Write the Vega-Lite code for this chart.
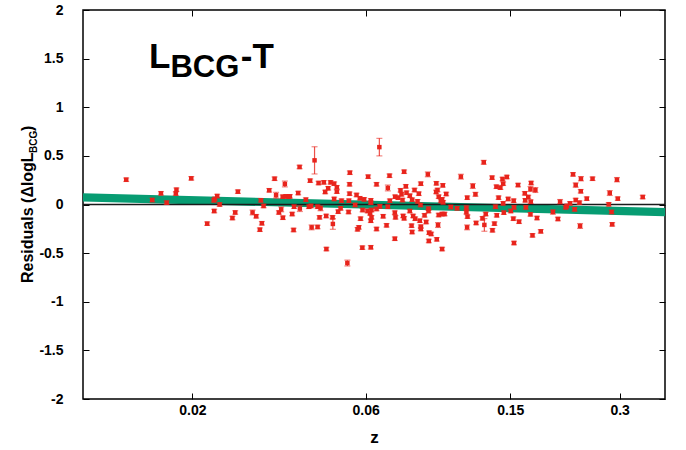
{
  "$schema": "https://vega.github.io/schema/vega-lite/v6.json",
  "width": 582,
  "height": 389,
  "autosize": {"type": "none"},
  "padding": {"left": 83, "top": 10, "right": 21, "bottom": 51},
  "background": "white",
  "config": {
    "font": "Liberation Sans",
    "view": {"stroke": "#000", "strokeWidth": 1.5}
  },
  "datasets": {
    "band": [
      {"z": 0.01, "hi": 0.115, "lo": 0.03},
      {"z": 0.4, "hi": -0.037, "lo": -0.12}
    ],
    "pts": [
      {"z":0.01315,"r":0.255,"e":0.018},{"z":0.01551,"r":0.046,"e":0.018},{"z":0.01639,"r":0.115,"e":0.018},{"z":0.01699,"r":0.019,"e":0.018},
      {"z":0.01808,"r":0.152,"e":0.018},{"z":0.01801,"r":0.112,"e":0.018},{"z":0.01986,"r":0.269,"e":0.018},{"z":0.02197,"r":-0.197,"e":0.018},
      {"z":0.02297,"r":-0.067,"e":0.018},{"z":0.02292,"r":0.043,"e":0.018},{"z":0.02306,"r":0.057,"e":0.018},{"z":0.02341,"r":0.087,"e":0.018},
      {"z":0.02377,"r":0.0,"e":0.018},{"z":0.02578,"r":-0.139,"e":0.018},{"z":0.02624,"r":-0.082,"e":0.018},{"z":0.02669,"r":0.132,"e":0.018},
      {"z":0.02929,"r":-0.082,"e":0.025},{"z":0.02997,"r":-0.121,"e":0.018},{"z":0.03068,"r":-0.259,"e":0.018},{"z":0.03087,"r":0.043,"e":0.018},
      {"z":0.03107,"r":-0.193,"e":0.018},{"z":0.03141,"r":-0.015,"e":0.018},{"z":0.03255,"r":0.146,"e":0.018},{"z":0.03368,"r":0.265,"e":0.018},
      {"z":0.034,"r":0.095,"e":0.03},{"z":0.03461,"r":-0.082,"e":0.018},{"z":0.03512,"r":-0.05,"e":0.025},{"z":0.0355,"r":-0.136,"e":0.018},
      {"z":0.03545,"r":0.08,"e":0.018},{"z":0.03595,"r":0.211,"e":0.03},{"z":0.03618,"r":0.084,"e":0.018},{"z":0.0368,"r":0.08,"e":0.018},
      {"z":0.03711,"r":0.084,"e":0.018},{"z":0.03765,"r":-0.098,"e":0.018},{"z":0.03799,"r":-0.262,"e":0.018},{"z":0.03812,"r":-0.023,"e":0.018},
      {"z":0.03911,"r":0.118,"e":0.018},{"z":0.03946,"r":0.386,"e":0.018},{"z":0.03953,"r":-0.042,"e":0.03},{"z":0.04106,"r":0.05,"e":0.018},
      {"z":0.04186,"r":-0.023,"e":0.018},{"z":0.04219,"r":0.245,"e":0.018},{"z":0.04242,"r":-0.015,"e":0.018},{"z":0.04259,"r":-0.235,"e":0.025},
      {"z":0.04339,"r":0.454,"e":0.14},{"z":0.04423,"r":-0.023,"e":0.018},{"z":0.04423,"r":-0.231,"e":0.018},{"z":0.04451,"r":0.221,"e":0.018},
      {"z":0.04478,"r":-0.132,"e":0.018},{"z":0.04507,"r":-0.039,"e":0.025},{"z":0.04602,"r":0.228,"e":0.018},{"z":0.04641,"r":0.129,"e":0.018},
      {"z":0.04671,"r":-0.118,"e":0.018},{"z":0.04677,"r":-0.458,"e":0.018},{"z":0.0473,"r":0.167,"e":0.018},{"z":0.04802,"r":0.228,"e":0.018},
      {"z":0.04864,"r":-0.132,"e":0.018},{"z":0.04873,"r":-0.2,"e":0.055},{"z":0.04913,"r":0.214,"e":0.018},{"z":0.04913,"r":0.057,"e":0.018},
      {"z":0.04998,"r":0.177,"e":0.018},{"z":0.04998,"r":0.132,"e":0.018},{"z":0.05039,"r":-0.074,"e":0.018},{"z":0.05118,"r":-0.039,"e":0.018},
      {"z":0.05148,"r":0.039,"e":0.018},{"z":0.05342,"r":-0.602,"e":0.03},{"z":0.05382,"r":-0.077,"e":0.018},{"z":0.05393,"r":0.039,"e":0.018},
      {"z":0.05417,"r":0.208,"e":0.018},{"z":0.05417,"r":0.111,"e":0.018},{"z":0.05427,"r":0.327,"e":0.018},{"z":0.05612,"r":-0.005,"e":0.018},
      {"z":0.05662,"r":0.098,"e":0.018},{"z":0.05698,"r":-0.255,"e":0.018},{"z":0.05745,"r":-0.235,"e":0.018},{"z":0.05782,"r":0.064,"e":0.018},
      {"z":0.05808,"r":-0.146,"e":0.018},{"z":0.05874,"r":-0.444,"e":0.018},{"z":0.05882,"r":-0.057,"e":0.018},{"z":0.05942,"r":0.053,"e":0.018},
      {"z":0.0607,"r":-0.067,"e":0.018},{"z":0.06093,"r":0.286,"e":0.018},{"z":0.06171,"r":-0.091,"e":0.018},{"z":0.06198,"r":0.043,"e":0.018},
      {"z":0.06225,"r":-0.132,"e":0.018},{"z":0.06198,"r":-0.167,"e":0.018},{"z":0.06225,"r":-0.057,"e":0.018},{"z":0.06198,"r":0.019,"e":0.018},
      {"z":0.06198,"r":-0.44,"e":0.018},{"z":0.06427,"r":0.208,"e":0.018},{"z":0.06427,"r":-0.046,"e":0.018},{"z":0.06427,"r":-0.252,"e":0.018},
      {"z":0.06543,"r":0.59,"e":0.09},{"z":0.06563,"r":-0.019,"e":0.018},{"z":0.06702,"r":-0.121,"e":0.018},{"z":0.06848,"r":-0.214,"e":0.018},
      {"z":0.06904,"r":0.17,"e":0.03},{"z":0.06904,"r":-0.023,"e":0.018},{"z":0.06978,"r":0.296,"e":0.018},{"z":0.06993,"r":0.039,"e":0.018},
      {"z":0.07217,"r":-0.352,"e":0.018},{"z":0.0723,"r":0.08,"e":0.018},{"z":0.07217,"r":-0.084,"e":0.018},{"z":0.07247,"r":-0.132,"e":0.018},
      {"z":0.0737,"r":0.07,"e":0.018},{"z":0.07482,"r":0.146,"e":0.018},{"z":0.07529,"r":0.105,"e":0.018},{"z":0.07576,"r":0.046,"e":0.018},
      {"z":0.07606,"r":-0.118,"e":0.018},{"z":0.07655,"r":0.337,"e":0.018},{"z":0.07655,"r":-0.142,"e":0.018},{"z":0.07738,"r":0.187,"e":0.018},
      {"z":0.07773,"r":0.121,"e":0.018},{"z":0.07937,"r":0.09,"e":0.018},{"z":0.07937,"r":-0.067,"e":0.018},{"z":0.08025,"r":-0.218,"e":0.018},
      {"z":0.08053,"r":0.049,"e":0.018},{"z":0.08053,"r":-0.283,"e":0.018},{"z":0.08104,"r":-0.118,"e":0.018},{"z":0.08177,"r":0.149,"e":0.018},
      {"z":0.08209,"r":-0.146,"e":0.018},{"z":0.08334,"r":0.033,"e":0.018},{"z":0.08403,"r":0.111,"e":0.018},{"z":0.08456,"r":-0.167,"e":0.018},
      {"z":0.08493,"r":-0.005,"e":0.018},{"z":0.08509,"r":0.214,"e":0.018},{"z":0.08509,"r":-0.228,"e":0.018},{"z":0.08509,"r":-0.252,"e":0.018},
      {"z":0.08713,"r":-0.111,"e":0.018},{"z":0.08803,"r":-0.18,"e":0.018},{"z":0.08896,"r":0.31,"e":0.025},{"z":0.08935,"r":-0.067,"e":0.018},
      {"z":0.08935,"r":-0.043,"e":0.018},{"z":0.08968,"r":-0.29,"e":0.018},{"z":0.08952,"r":-0.375,"e":0.018},{"z":0.09085,"r":-0.303,"e":0.018},
      {"z":0.09388,"r":0.218,"e":0.018},{"z":0.09458,"r":0.149,"e":0.018},{"z":0.09376,"r":0.129,"e":0.018},{"z":0.09416,"r":-0.358,"e":0.018},
      {"z":0.0949,"r":-0.211,"e":0.025},{"z":0.09532,"r":0.08,"e":0.018},{"z":0.09532,"r":-0.108,"e":0.018},{"z":0.09658,"r":0.036,"e":0.018},
      {"z":0.09739,"r":0.053,"e":0.018},{"z":0.09739,"r":-0.098,"e":0.018},{"z":0.09739,"r":-0.458,"e":0.018},{"z":0.09782,"r":0.197,"e":0.018},
      {"z":0.098,"r":0.023,"e":0.018},{"z":0.09892,"r":-0.098,"e":0.018},{"z":0.09994,"r":0.108,"e":0.018},{"z":0.1029,"r":-0.026,"e":0.018},
      {"z":0.1071,"r":-0.039,"e":0.018},{"z":0.1097,"r":0.286,"e":0.025},{"z":0.1136,"r":-0.033,"e":0.018},{"z":0.1136,"r":-0.08,"e":0.018},
      {"z":0.1142,"r":0.07,"e":0.018},{"z":0.1144,"r":-0.125,"e":0.018},{"z":0.1141,"r":-0.235,"e":0.025},{"z":0.1183,"r":0.19,"e":0.025},
      {"z":0.1203,"r":0.105,"e":0.02},{"z":0.1208,"r":-0.19,"e":0.018},{"z":0.1258,"r":-0.142,"e":0.018},{"z":0.1268,"r":0.434,"e":0.02},
      {"z":0.1273,"r":-0.21,"e":0.065},{"z":0.1284,"r":-0.098,"e":0.018},{"z":0.1337,"r":0.276,"e":0.018},{"z":0.134,"r":-0.265,"e":0.018},
      {"z":0.1357,"r":-0.197,"e":0.018},{"z":0.1366,"r":-0.023,"e":0.018},{"z":0.1374,"r":0.183,"e":0.018},{"z":0.1377,"r":-0.111,"e":0.018},
      {"z":0.1393,"r":0.07,"e":0.018},{"z":0.1409,"r":0.173,"e":0.018},{"z":0.1428,"r":0.262,"e":0.018},{"z":0.1434,"r":0.214,"e":0.018},
      {"z":0.1434,"r":0.012,"e":0.018},{"z":0.144,"r":-0.084,"e":0.018},{"z":0.1468,"r":0.283,"e":0.018},{"z":0.148,"r":0.057,"e":0.018},
      {"z":0.1505,"r":-0.067,"e":0.018},{"z":0.153,"r":-0.146,"e":0.018},{"z":0.1533,"r":0.039,"e":0.018},{"z":0.1536,"r":-0.029,"e":0.018},
      {"z":0.1536,"r":-0.396,"e":0.018},{"z":0.1576,"r":0.2,"e":0.018},{"z":0.1586,"r":-0.177,"e":0.018},{"z":0.1645,"r":0.115,"e":0.018},
      {"z":0.1649,"r":0.043,"e":0.018},{"z":0.1656,"r":-0.029,"e":0.018},{"z":0.1681,"r":0.077,"e":0.018},{"z":0.1705,"r":0.159,"e":0.025},
      {"z":0.1705,"r":-0.101,"e":0.018},{"z":0.1712,"r":0.221,"e":0.018},{"z":0.1708,"r":0.029,"e":0.018},{"z":0.1727,"r":-0.317,"e":0.018},
      {"z":0.1759,"r":0.149,"e":0.025},{"z":0.1777,"r":-0.139,"e":0.018},{"z":0.182,"r":-0.276,"e":0.018},{"z":0.1966,"r":-0.077,"e":0.022},
      {"z":0.2029,"r":-0.149,"e":0.018},{"z":0.2057,"r":0.029,"e":0.022},{"z":0.2132,"r":-0.029,"e":0.018},{"z":0.2146,"r":-0.015,"e":0.018},
      {"z":0.2191,"r":0.012,"e":0.018},{"z":0.2233,"r":0.31,"e":0.018},{"z":0.2256,"r":-0.05,"e":0.018},{"z":0.2271,"r":0.2,"e":0.022},
      {"z":0.2271,"r":0.046,"e":0.018},{"z":0.2326,"r":0.019,"e":0.018},{"z":0.2335,"r":-0.221,"e":0.025},{"z":0.2348,"r":0.265,"e":0.022},
      {"z":0.2345,"r":0.136,"e":0.018},{"z":0.2436,"r":0.06,"e":0.018},{"z":0.2527,"r":0.265,"e":0.018},{"z":0.28,"r":0.002,"e":0.018},
      {"z":0.2818,"r":0.118,"e":0.025},{"z":0.2851,"r":-0.077,"e":0.018},{"z":0.2862,"r":-0.204,"e":0.018},{"z":0.295,"r":0.255,"e":0.022},
      {"z":0.2965,"r":0.06,"e":0.018},{"z":0.3473,"r":0.077,"e":0.018}
    ]
  },
  "resolve": {"axis": {"x": "independent", "y": "independent"}},
  "layer": [
    {
      "data": {"name": "band"},
      "mark": {"type": "area", "color": "#079c72", "opacity": 1},
      "encoding": {
        "x": {"field": "z", "type": "quantitative",
          "scale": {"type": "log", "domain": [0.01, 0.4], "nice": false},
          "axis": {"orient": "bottom", "values": [0.02, 0.06, 0.15, 0.3], "labelExpr": "'' + datum.value",
            "tickSize": -6, "tickColor": "#000", "tickWidth": 1, "domain": false, "grid": false,
            "labelFontWeight": "bold", "labelFontSize": 14, "labelColor": "#000", "labelPadding": 10, "labelFlush": false,
            "title": "z", "titleFontSize": 17, "titleFontWeight": "bold", "titleColor": "#000", "titlePadding": 12}},
        "y": {"field": "hi", "type": "quantitative",
          "scale": {"domain": [-2, 2], "nice": false, "zero": false},
          "axis": {"orient": "left", "values": [-2, -1.5, -1, -0.5, 0, 0.5, 1, 1.5, 2], "labelExpr": "'' + datum.value",
            "tickSize": -6, "tickColor": "#000", "tickWidth": 1, "domain": false, "grid": false,
            "labelFontWeight": "bold", "labelFontSize": 14, "labelColor": "#000", "labelPadding": 26, "labelFlush": false,
            "title": null}},
        "y2": {"field": "lo"}
      }
    },
    {
      "data": {"name": "band"},
      "mark": {"type": "point", "opacity": 0},
      "encoding": {
        "x": {"field": "z", "type": "quantitative",
          "axis": {"orient": "top", "values": [0.02, 0.06, 0.15, 0.3], "labels": false, "tickSize": -6, "tickColor": "#000", "tickWidth": 1, "domain": false, "grid": false, "title": null}},
        "y": {"field": "hi", "type": "quantitative",
          "axis": {"orient": "right", "values": [-2, -1.5, -1, -0.5, 0, 0.5, 1, 1.5, 2], "labels": false, "tickSize": -6, "tickColor": "#000", "tickWidth": 1, "domain": false, "grid": false, "title": null}}
      }
    },
    {
      "data": {"values": [{}]},
      "mark": {"type": "rule", "color": "#1a1a1a", "strokeWidth": 1.6},
      "encoding": {"y": {"datum": 0, "type": "quantitative", "axis": null}}
    },
    {
      "data": {"name": "pts"},
      "mark": {"type": "errorbar", "color": "#e8241c", "opacity": 0.8, "thickness": 1.2, "ticks": {"size": 6, "thickness": 1.2, "color": "#e8241c", "opacity": 0.55}},
      "encoding": {
        "x": {"field": "z", "type": "quantitative", "axis": null},
        "y": {"field": "r", "type": "quantitative", "axis": null},
        "yError": {"field": "e"}
      }
    },
    {
      "data": {"name": "pts"},
      "mark": {"type": "square", "filled": true, "size": 20, "color": "#e8241c", "opacity": 1},
      "encoding": {
        "x": {"field": "z", "type": "quantitative", "axis": null},
        "y": {"field": "r", "type": "quantitative", "axis": null}
      }
    },
    {
      "data": {"values": [{}]},
      "mark": {"type": "text", "text": "L", "font": "Liberation Sans", "fontWeight": "bold", "fontSize": 35, "align": "left", "baseline": "alphabetic", "color": "#000"},
      "encoding": {"x": {"datum": 0.01519, "type": "quantitative", "axis": null}, "y": {"datum": 1.4036, "type": "quantitative", "axis": null}}
    },
    {
      "data": {"values": [{}]},
      "mark": {"type": "text", "text": "BCG", "font": "Liberation Sans", "fontWeight": "bold", "fontSize": 31, "align": "left", "baseline": "alphabetic", "color": "#000"},
      "encoding": {"x": {"datum": 0.01741, "type": "quantitative", "axis": null}, "y": {"datum": 1.311, "type": "quantitative", "axis": null}}
    },
    {
      "data": {"values": [{}]},
      "mark": {"type": "text", "text": "-T", "font": "Liberation Sans", "fontWeight": "bold", "fontSize": 35, "align": "left", "baseline": "alphabetic", "color": "#000"},
      "encoding": {"x": {"datum": 0.0272, "type": "quantitative", "axis": null}, "y": {"datum": 1.4036, "type": "quantitative", "axis": null}}
    },
    {
      "data": {"values": [{}]},
      "mark": {"type": "text", "text": "Residuals (ΔlogL", "font": "Liberation Sans", "fontWeight": "bold", "fontSize": 16, "angle": 270, "align": "left", "baseline": "alphabetic", "color": "#000"},
      "encoding": {"x": {"datum": 0.007284, "type": "quantitative", "axis": null}, "y": {"datum": -0.807, "type": "quantitative", "axis": null}}
    },
    {
      "data": {"values": [{}]},
      "mark": {"type": "text", "text": "BCG", "font": "Liberation Sans", "fontWeight": "bold", "fontSize": 10, "angle": 270, "align": "left", "baseline": "alphabetic", "color": "#000"},
      "encoding": {"x": {"datum": 0.007468, "type": "quantitative", "axis": null}, "y": {"datum": 0.53, "type": "quantitative", "axis": null}}
    },
    {
      "data": {"values": [{}]},
      "mark": {"type": "text", "text": ")", "font": "Liberation Sans", "fontWeight": "bold", "fontSize": 16, "angle": 270, "align": "left", "baseline": "alphabetic", "color": "#000"},
      "encoding": {"x": {"datum": 0.007284, "type": "quantitative", "axis": null}, "y": {"datum": 0.756, "type": "quantitative", "axis": null}}
    }
  ]
}
